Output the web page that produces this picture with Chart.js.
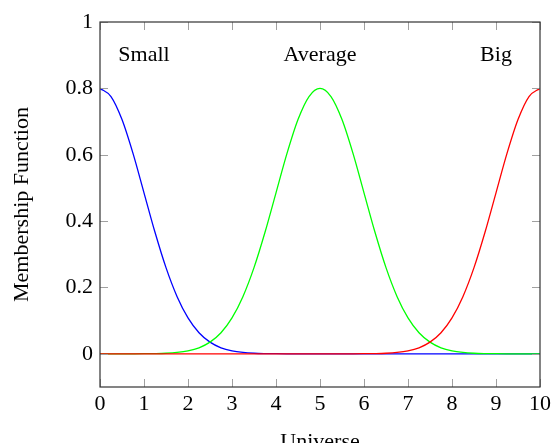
<!DOCTYPE html>
<html>
<head>
<meta charset="utf-8">
<script src="https://cdn.jsdelivr.net/npm/chart.js@4/dist/chart.umd.min.js"></script>
<style>
  html, body { margin: 0; padding: 0; background: #fff; }
  canvas { display: block; }
</style>
</head>
<body>
<canvas id="mf-chart" width="555" height="443"></canvas>
<script>
// universe sample points (0 .. 10, step 0.25)
var universe = [0, 0.25, 0.5, 0.75, 1, 1.25, 1.5, 1.75, 2, 2.25, 2.5, 2.75, 3, 3.25, 3.5, 3.75, 4, 4.25, 4.5, 4.75,
  5, 5.25, 5.5, 5.75, 6, 6.25, 6.5, 6.75, 7, 7.25, 7.5, 7.75, 8, 8.25, 8.5, 8.75, 9, 9.25, 9.5, 9.75, 10];

var small = [0.8, 0.7754, 0.7060, 0.6039, 0.4852, 0.3663, 0.2597, 0.1730, 0.1083, 0.0636, 0.0352, 0.0182, 0.0089,
  0.0041, 0.0017, 0.0007, 0.0003, 0.0001, 0, 0, 0, 0, 0, 0, 0, 0, 0, 0, 0, 0, 0, 0, 0, 0, 0, 0, 0, 0, 0, 0, 0];

var average = [0, 0, 0, 0.0001, 0.0003, 0.0007, 0.0017, 0.0041, 0.0089, 0.0182, 0.0352, 0.0636, 0.1083, 0.1730,
  0.2597, 0.3663, 0.4852, 0.6039, 0.7060, 0.7754, 0.8, 0.7754, 0.7060, 0.6039, 0.4852, 0.3663, 0.2597, 0.1730,
  0.1083, 0.0636, 0.0352, 0.0182, 0.0089, 0.0041, 0.0017, 0.0007, 0.0003, 0.0001, 0, 0, 0];

var big = [0, 0, 0, 0, 0, 0, 0, 0, 0, 0, 0, 0, 0, 0, 0, 0, 0, 0, 0, 0, 0, 0, 0, 0.0001, 0.0003, 0.0007, 0.0017,
  0.0041, 0.0089, 0.0182, 0.0352, 0.0636, 0.1083, 0.1730, 0.2597, 0.3663, 0.4852, 0.6039, 0.7060, 0.7754, 0.8];

var xTicks = [0, 1, 2, 3, 4, 5, 6, 7, 8, 9, 10];
var yTicks = [0, 0.2, 0.4, 0.6, 0.8, 1];

// text labels placed in data coordinates
var labelNames = ["Small", "Average", "Big"];
var labelX = [1, 5, 9];
var labelY = [0.9, 0.9, 0.9];

var FONT = "'Liberation Serif', 'Times New Roman', serif";

function toPoints(ys) {
  return universe.map(function(x, i){ return {x: x, y: ys[i]}; });
}

// box, inward ticks on all four sides, and the curve names
var axisDecor = {
  id: 'axisDecor',
  afterDatasetsDraw: function(chart) {
    var ctx = chart.ctx;
    var a = chart.chartArea;
    var xs = chart.scales.x, ys = chart.scales.y;
    var len = 8;
    ctx.save();
    ctx.strokeStyle = '#a0a0a0';
    ctx.lineWidth = 1;
    ctx.beginPath();
    xTicks.forEach(function(v){
      var px = Math.round(xs.getPixelForValue(v)) + 0.5;
      ctx.moveTo(px, a.bottom); ctx.lineTo(px, a.bottom - len);
      ctx.moveTo(px, a.top); ctx.lineTo(px, a.top + len);
    });
    yTicks.forEach(function(v){
      var py = Math.round(ys.getPixelForValue(v)) + 0.5;
      ctx.moveTo(a.left, py); ctx.lineTo(a.left + len, py);
      ctx.moveTo(a.right, py); ctx.lineTo(a.right - len, py);
    });
    ctx.stroke();

    ctx.strokeStyle = '#333';
    ctx.lineWidth = 1.2;
    ctx.strokeRect(a.left, a.top, a.right - a.left, a.bottom - a.top);

    ctx.fillStyle = '#000';
    ctx.font = "22px " + FONT;
    ctx.textAlign = 'center';
    ctx.textBaseline = 'middle';
    labelNames.forEach(function(t, i){
      ctx.fillText(t, xs.getPixelForValue(labelX[i]), ys.getPixelForValue(labelY[i]));
    });
    ctx.restore();
  }
};

var ctx = document.getElementById("mf-chart");
var mfChart = new Chart(ctx, {
  type: 'line',
  data: {
    datasets: [
      { label: 'Small', data: toPoints(small), borderColor: '#0000ff', order: 3 },
      { label: 'Average', data: toPoints(average), borderColor: '#00ff00', order: 2 },
      { label: 'Big', data: toPoints(big), borderColor: '#ff0000', order: 1 }
    ]
  },
  options: {
    responsive: false,
    animation: false,
    parsing: false,
    elements: {
      point: { radius: 0 },
      line: { borderWidth: 1.3, cubicInterpolationMode: 'monotone', fill: false }
    },
    layout: { padding: { top: 22, right: 14, left: 0, bottom: 0 } },
    plugins: {
      legend: { display: false },
      tooltip: { enabled: false }
    },
    scales: {
      x: {
        type: 'linear',
        min: 0,
        max: 10,
        afterBuildTicks: function(scale){ scale.ticks = xTicks.map(function(v){ return {value: v}; }); },
        afterFit: function(scale){ scale.height = 56; },
        grid: { display: false, drawTicks: false },
        border: { display: false },
        ticks: {
          padding: 4,
          maxRotation: 0,
          color: '#000',
          font: { family: FONT, size: 22 },
          callback: function(v){ return String(v); }
        },
        title: {
          display: true,
          text: 'Universe',
          color: '#000',
          font: { family: FONT, size: 22 },
          padding: { top: 0, bottom: -12 }
        }
      },
      y: {
        type: 'linear',
        min: -0.1,
        max: 1,
        afterBuildTicks: function(scale){ scale.ticks = yTicks.map(function(v){ return {value: v}; }); },
        afterFit: function(scale){ scale.width = 100; },
        grid: { display: false, drawTicks: false },
        border: { display: false },
        ticks: {
          padding: 7,
          color: '#000',
          font: { family: FONT, size: 22 },
          callback: function(v){ return String(Math.round(v * 10) / 10); }
        },
        title: {
          display: true,
          text: 'Membership Function',
          color: '#000',
          font: { family: FONT, size: 22 },
          padding: { top: 9, bottom: 0 }
        }
      }
    }
  },
  plugins: [axisDecor]
});
</script>
</body>
</html>
